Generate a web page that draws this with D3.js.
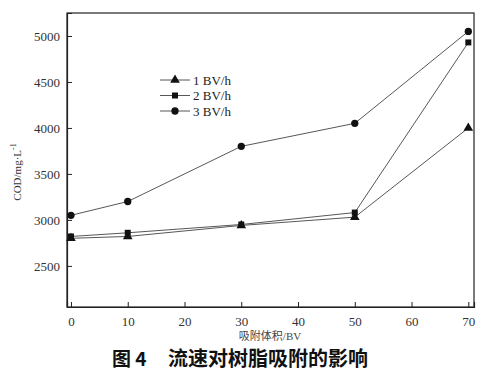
<!DOCTYPE html>
<meta charset="utf-8">
<html>
<body style="margin:0">
<svg width="488" height="374"></svg>
<script src="https://d3js.org/d3.v7.min.js"></script>
<script>
// data
var volumes = [0, 10, 30, 50, 70];
var rate1 = [2800, 2820, 2940, 3030, 4000];
var rate2 = [2820, 2860, 2950, 3080, 4930];
var rate3 = [3050, 3200, 3800, 4050, 5050];
var seriesNames = ["1 BV/h", "2 BV/h", "3 BV/h"];
var xTicks = [0, 10, 20, 30, 40, 50, 60, 70];
var yTicks = [2500, 3000, 3500, 4000, 4500, 5000];

var svg = d3.select("svg");
var plotL = 67, plotR = 474, plotT = 13, plotB = 307;

var x = d3.scaleLinear().domain([-0.7, 71]).range([plotL, plotR]);
var y = d3.scaleLinear().domain([2053, 5250]).range([plotB, plotT]);

svg.append("rect").attr("width", 488).attr("height", 374).attr("fill", "#fff");

// frame
svg.append("rect")
    .attr("x", plotL).attr("y", plotT)
    .attr("width", plotR - plotL).attr("height", plotB - plotT)
    .attr("fill", "none").attr("stroke", "#222").attr("stroke-width", 1.2);

// axes, ticks inward
var gx = svg.append("g").attr("transform", "translate(0," + plotB + ")")
    .call(d3.axisBottom(x).tickValues(xTicks).tickSize(-5).tickPadding(10).tickFormat(d3.format("d")));
var gy = svg.append("g").attr("transform", "translate(" + plotL + ",0)")
    .call(d3.axisLeft(y).tickValues(yTicks).tickSize(-5).tickPadding(7).tickFormat(d3.format("d")));
[gx, gy].forEach(function(g) {
    g.attr("font-family", "Liberation Serif").attr("font-size", 13);
    g.select(".domain").attr("stroke", "#222").attr("stroke-width", 1.2);
    g.selectAll(".tick line").attr("stroke", "#222");
    g.selectAll("text").attr("fill", "#333");
});

var series = [rate1, rate2, rate3];
var line = d3.line().x(function(d, i) { return x(volumes[i]); }).y(function(d) { return y(d); });

var symTypes = [d3.symbolTriangle, d3.symbolSquare, d3.symbolCircle];
var symSizes = [40, 36, 42];

series.forEach(function(s, k) {
    svg.append("path").datum(s)
        .attr("d", line)
        .attr("fill", "none")
        .attr("stroke", "#444")
        .attr("stroke-width", 0.9);
    svg.selectAll(".m" + k).data(s).enter().append("path")
        .attr("class", "m" + k)
        .attr("transform", function(d, i) { return "translate(" + x(volumes[i]) + "," + y(d) + ")"; })
        .attr("d", d3.symbol().type(symTypes[k]).size(symSizes[k]))
        .attr("fill", "#111");
});

// legend
var legend = svg.append("g").attr("transform", "translate(160,80)");
seriesNames.forEach(function(name, k) {
    var ly = k * 15.5;
    legend.append("line")
        .attr("x1", 0).attr("x2", 30).attr("y1", ly).attr("y2", ly)
        .attr("stroke", "#444").attr("stroke-width", 0.9);
    legend.append("path")
        .attr("transform", "translate(15," + ly + ")")
        .attr("d", d3.symbol().type(symTypes[k]).size(symSizes[k]))
        .attr("fill", "#111");
    legend.append("text")
        .attr("x", 33).attr("y", ly + 4.5)
        .attr("font-family", "Liberation Serif")
        .attr("font-size", 13)
        .attr("fill", "#222")
        .text(name);
});

// axis titles
svg.append("text")
    .attr("transform", "translate(21,172) rotate(-90)")
    .attr("text-anchor", "middle")
    .attr("font-family", "Liberation Serif")
    .attr("font-size", 11)
    .attr("fill", "#333")
    .html("COD/mg·L<tspan dy='-5' font-size='8'>-1</tspan>");

svg.append("text")
    .attr("x", 270).attr("y", 340)
    .attr("text-anchor", "middle")
    .attr("font-family", "'Liberation Serif', 'Noto Sans CJK SC'")
    .attr("font-size", 11)
    .attr("fill", "#444")
    .text("吸附体积/BV");

// caption
svg.append("text")
    .attr("x", 112).attr("y", 366)
    .attr("font-family", "Noto Sans CJK SC")
    .attr("font-weight", "bold")
    .attr("font-size", 19)
    .attr("fill", "#111")
    .text("图 4");
svg.append("text")
    .attr("x", 168).attr("y", 366)
    .attr("font-family", "Noto Sans CJK SC")
    .attr("font-weight", "bold")
    .attr("font-size", 20)
    .attr("fill", "#111")
    .text("流速对树脂吸附的影响");
</script>
</body>
</html>
